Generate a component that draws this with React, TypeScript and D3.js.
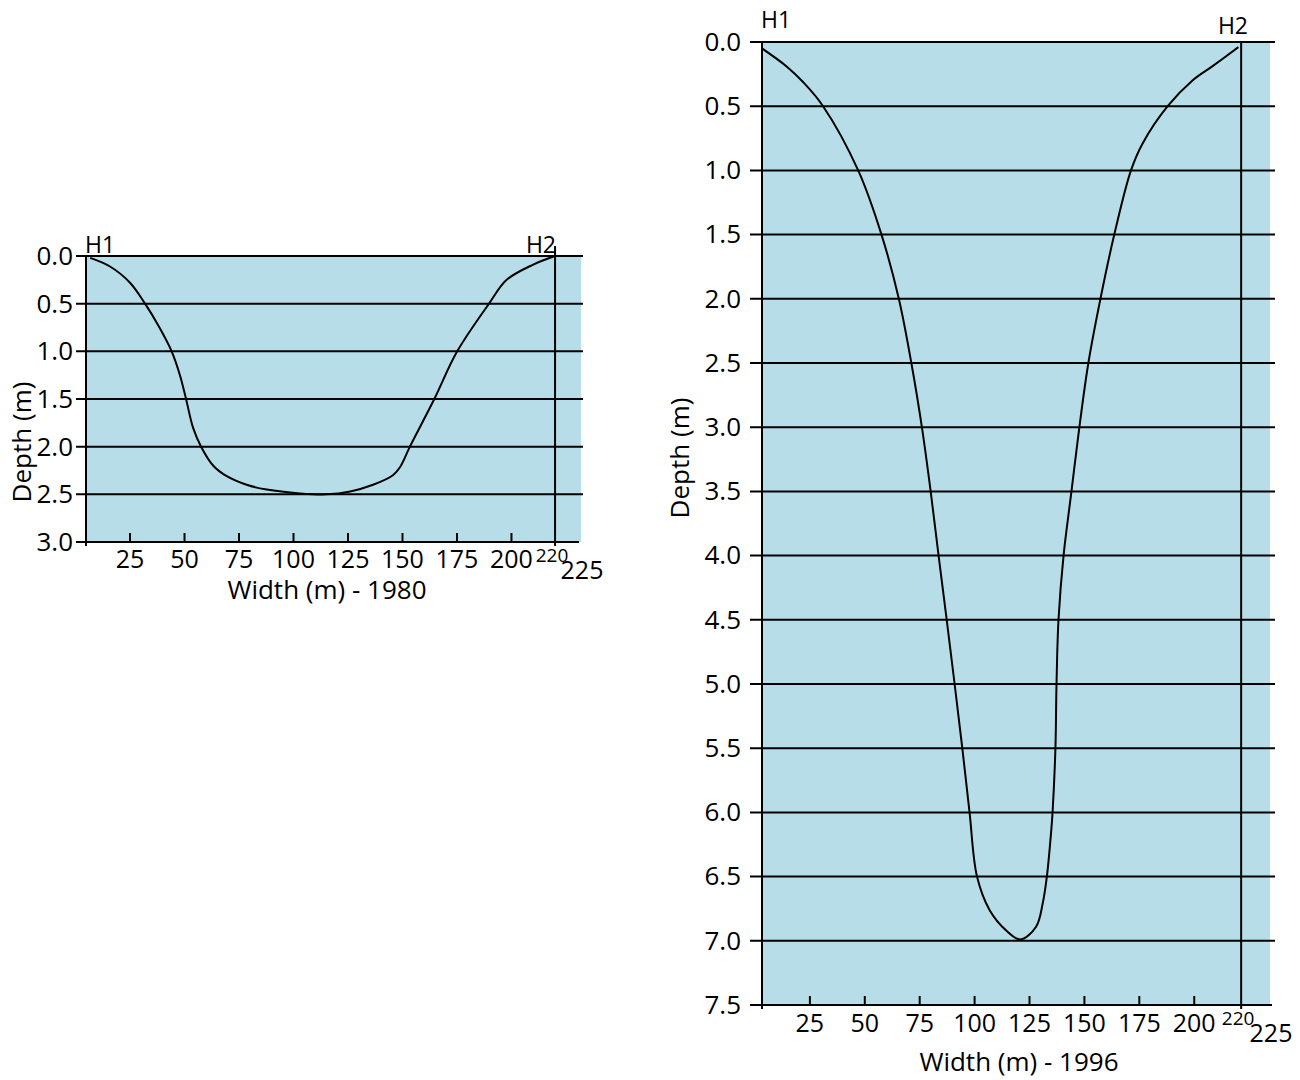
import React from 'react';
import * as d3 from 'd3';

// ---------- data ----------
const depthTicks1980 = [0, 0.5, 1.0, 1.5, 2.0, 2.5, 3.0];
const depthTicks1996 = [0, 0.5, 1.0, 1.5, 2.0, 2.5, 3.0, 3.5, 4.0, 4.5, 5.0, 5.5, 6.0, 6.5, 7.0, 7.5];
const widthTicks = [25, 50, 75, 100, 125, 150, 175, 200];
const bankWidth = 220; // H2 position
const endWidthLabel = '225';

const widths1980 = [6.7, 15.8, 25, 31.9, 38.5, 44.1, 47.9, 50.7, 53.9, 57.6, 63.2, 69.4, 78.5, 87.7, 103, 115, 126, 136.5, 145.6, 149, 153.4, 164.6, 175.1, 189.7, 197.8, 210, 220];
const depths1980 = [0.02, 0.11, 0.28, 0.5, 0.75, 1.0, 1.25, 1.5, 1.8, 2.0, 2.2, 2.31, 2.4, 2.45, 2.49, 2.5, 2.47, 2.4, 2.3, 2.21, 2.0, 1.5, 1.0, 0.5, 0.25, 0.09, 0.0];

const widths1996 = [3.2, 14.4, 21.8, 31.0, 47.0, 57.6, 65.5, 71.2, 76.0, 80.0, 83.6, 87.3, 90.9, 94.4, 97.7, 101.1, 106.8, 114.4, 120.9, 128.0, 131.0, 132.9, 134.9, 135.5, 136.8, 137.3, 138.2, 140.5, 144.1, 147.7, 151.8, 157.3, 163.6, 171.2, 176.5, 187.9, 199.2, 208.2, 220.1];
const depths1996 = [0.05, 0.19, 0.31, 0.5, 1.0, 1.5, 2.0, 2.5, 3.0, 3.5, 4.0, 4.5, 5.0, 5.5, 6.0, 6.5, 6.76, 6.92, 6.99, 6.89, 6.71, 6.5, 6.14, 6.0, 5.5, 5.0, 4.5, 4.0, 3.5, 3.0, 2.5, 2.0, 1.5, 1.0, 0.79, 0.5, 0.3, 0.19, 0.04];

const depthTitle = 'Depth (m)';
const widthTitle1980 = 'Width (m) - 1980';
const widthTitle1996 = 'Width (m) - 1996';
const bankLabels = ['H1', 'H2'];

// ---------- style ----------
const FONT = "'Open Sans', 'Noto Sans', sans-serif";
const FILL = '#b7dee8';
const INK = '#000';

type Layout = {
  left: number; right: number; top: number; bottom: number;
  xDomain: [number, number]; yMax: number;
  gridRight: number; axisRight: number; tickLen: number; yLabelX: number;
  h1Base: number; h2Base: number; h2End: number; h2Top: number; h2Shift: number;
  xLabelDy: number;
  xTitleX: number; xTitleY: number; yTitleX: number; yTitleY: number;
};

function Panel({ layout, depthTicks, widths, depths, xTitle }: {
  layout: Layout; depthTicks: number[]; widths: number[]; depths: number[]; xTitle: string;
}) {
  const L = layout;
  const x = d3.scaleLinear().domain(L.xDomain).range([L.left, L.right]);
  const y = d3.scaleLinear().domain([0, L.yMax]).range([L.top, L.bottom]);
  const pts: [number, number][] = widths.map((w, i) => [w, depths[i]]);
  const line = d3.line<[number, number]>()
    .x(d => x(d[0]))
    .y(d => y(d[1]))
    .curve(d3.curveCatmullRom.alpha(0.5));
  const fmt = d3.format('.1f');
  const h2x = x(bankWidth) + L.h2Shift;

  return (
    <g>
      <rect x={L.left} y={L.top} width={L.right - L.left} height={L.bottom - L.top} fill={FILL} />
      {depthTicks.map((t, i) => {
        const last = i === depthTicks.length - 1;
        return (
          <g key={t}>
            <line x1={L.left - L.tickLen} x2={last ? L.axisRight : L.gridRight} y1={y(t)} y2={y(t)}
              stroke={INK} strokeWidth={2} />
            <text x={L.yLabelX} y={y(t)} dy="0.34em" textAnchor="end" fontSize={26} fontFamily={FONT} fill={INK}>{fmt(t)}</text>
          </g>
        );
      })}
      {/* left axis */}
      <line x1={L.left} x2={L.left} y1={L.top} y2={L.bottom + 4} stroke={INK} strokeWidth={2} />
      {/* H2 bank line */}
      <line x1={h2x} x2={h2x} y1={L.h2Top} y2={L.bottom + 4} stroke={INK} strokeWidth={2} />
      {/* x ticks */}
      {widthTicks.map(t => (
        <g key={t}>
          <line x1={x(t)} x2={x(t)} y1={L.bottom - 9} y2={L.bottom + 1} stroke={INK} strokeWidth={2} />
          <text x={x(t)} y={L.bottom + L.xLabelDy} textAnchor="middle" fontSize={25} fontFamily={FONT} fill={INK}>{t}</text>
        </g>
      ))}
      <text x={h2x - 3} y={L.bottom + 20} textAnchor="middle" fontSize={19} fontFamily={FONT} fill={INK}>{bankWidth}</text>
      <text x={L.right + 1} y={L.bottom + 37} textAnchor="middle" fontSize={25} fontFamily={FONT} fill={INK}>{endWidthLabel}</text>
      {/* bank labels */}
      <text x={L.left - 1} y={L.h1Base} fontSize={23} fontFamily={FONT} fill={INK}>{bankLabels[0]}</text>
      <text x={L.h2End} y={L.h2Base} textAnchor="end" fontSize={23} fontFamily={FONT} fill={INK}>{bankLabels[1]}</text>
      {/* profile */}
      <path d={line(pts) || ''} fill="none" stroke={INK} strokeWidth={2} />
      {/* titles */}
      <text x={L.xTitleX} y={L.xTitleY} textAnchor="middle" fontSize={26} fontFamily={FONT} fill={INK}>{xTitle}</text>
      <text transform={`translate(${L.yTitleX},${L.yTitleY}) rotate(-90)`} dy="0.35em" textAnchor="middle"
        fontSize={26} fontFamily={FONT} fill={INK}>{depthTitle}</text>
    </g>
  );
}

const layout1980: Layout = {
  left: 86, right: 581, top: 256, bottom: 542,
  xDomain: [4.8, 231.9], yMax: 3,
  gridRight: 583, axisRight: 579, tickLen: 10, yLabelX: 73,
  h1Base: 253, h2Base: 253, h2End: 556, h2Top: 246, h2Shift: 0,
  xLabelDy: 26,
  xTitleX: 327, xTitleY: 599, yTitleX: 22, yTitleY: 442,
};

const layout1996: Layout = {
  left: 762, right: 1270, top: 42, bottom: 1005,
  xDomain: [3.2, 234.5], yMax: 7.5,
  gridRight: 1275, axisRight: 1272, tickLen: 12, yLabelX: 741,
  h1Base: 28, h2Base: 34, h2End: 1248, h2Top: 42, h2Shift: 3,
  xLabelDy: 27,
  xTitleX: 1019, xTitleY: 1071, yTitleX: 680, yTitleY: 458,
};

export default function App() {
  return (
    <svg width={1300} height={1080} style={{ position: 'absolute', left: 0, top: 0, background: '#fff' }}>
      <rect x={0} y={0} width={1300} height={1080} fill="#fff" />
      <Panel layout={layout1980} depthTicks={depthTicks1980} widths={widths1980} depths={depths1980} xTitle={widthTitle1980} />
      <Panel layout={layout1996} depthTicks={depthTicks1996} widths={widths1996} depths={depths1996} xTitle={widthTitle1996} />
    </svg>
  );
}
